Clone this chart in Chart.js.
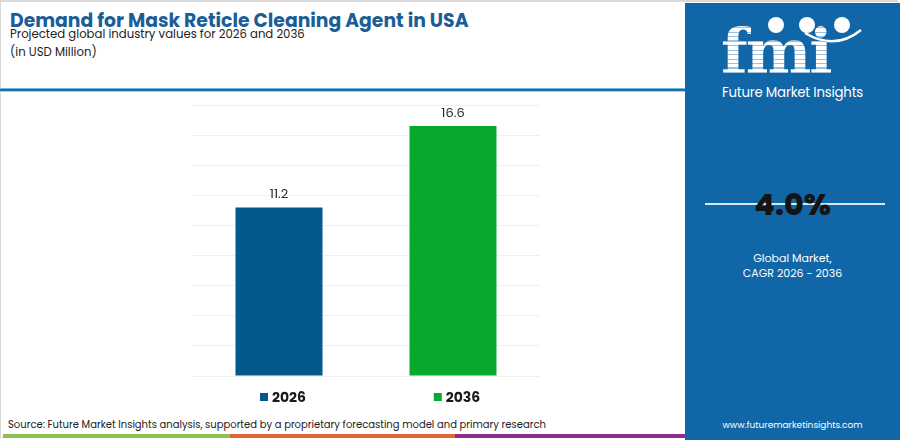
<!DOCTYPE html>
<html>
<head>
<meta charset="utf-8">
<script src="https://cdn.jsdelivr.net/npm/chart.js@4.4.1/dist/chart.umd.min.js"></script>
<style>
  html,body{margin:0;padding:0;}
  body{width:900px;height:440px;position:relative;overflow:hidden;background:#fff;font-family:"Poppins","Inter","Open Sans",sans-serif;}
  #frame{position:absolute;left:0;top:0;width:898px;height:438px;border:1px solid #d9d9d9;border-top:2px solid #d9d9d9;box-sizing:border-box;}
  #title{position:absolute;left:10px;top:6px;font-size:18.8px;font-weight:700;color:#1b5e97;white-space:nowrap;}
  #sub1{position:absolute;left:10px;top:26px;font-size:11.7px;color:#222;white-space:nowrap;}
  #sub2{position:absolute;left:10px;top:44px;font-size:11.7px;color:#222;white-space:nowrap;}
  #hline{position:absolute;left:0;top:88px;width:686px;height:4px;background:#1c6ca6;border-top:1px solid #6fb3e0;border-bottom:1px solid #9fd0f0;box-sizing:border-box;}
  #chartbox{position:absolute;left:0;top:95px;width:685px;height:320px;}
  #source{position:absolute;left:8px;top:417px;font-size:10px;color:#222;white-space:nowrap;}
  #bars{position:absolute;left:3px;top:434px;height:4px;width:682px;display:flex;}
  #bars div{height:100%;}
  #panel{position:absolute;left:685px;top:3px;width:215px;height:437px;background:#1166a8;overflow:hidden;}
  #logo{position:absolute;left:36px;top:21px;font-family:"DejaVu Serif",serif;font-weight:700;font-size:62px;line-height:56px;letter-spacing:-2px;
        background:repeating-linear-gradient(to bottom,#ffffff 0px,#ffffff 3px,#9cc3e3 3px,#9cc3e3 4.5px);-webkit-background-clip:text;background-clip:text;color:transparent;}
  .dot{position:absolute;width:16px;height:16px;border-radius:50%;background:#fff;}
  #fmitxt{position:absolute;left:0;width:215px;top:80px;text-align:center;font-size:13.3px;color:#fff;letter-spacing:-0.2px;}
  #cagrline{position:absolute;left:20px;top:200px;width:180px;height:2px;background:#d6e8f6;}
  #cagr{position:absolute;left:0;width:215px;top:179px;text-align:center;font-size:30px;font-weight:800;color:#141414;}
  #gm{position:absolute;left:0;width:215px;top:248px;text-align:center;font-size:11px;color:#fff;line-height:15px;}
  #url{position:absolute;left:0;width:215px;top:416px;text-align:center;font-size:9px;color:#fff;}
</style>
</head>
<body>
<div id="frame"></div>
<div id="title">Demand for Mask Reticle Cleaning Agent in USA</div>
<div id="sub1">Projected global industry values for 2026 and 2036</div>
<div id="sub2">(in USD Million)</div>
<div id="hline"></div>
<div id="chartbox"><canvas id="c"></canvas></div>
<div id="source">Source: Future Market Insights analysis, supported by a proprietary forecasting model and primary research</div>
<div id="bars"><div style="width:227px;background:#8cc152"></div><div style="width:225px;background:#e6643c"></div><div style="width:230px;background:#8b2c8c"></div></div>
<div id="panel">
  <svg style="position:absolute;left:0;top:0" width="215" height="120">
    <path d="M120 30 Q150 48 176 27" stroke="#fff" stroke-width="2.5" fill="none"/>
  </svg>
  <div class="dot" style="left:83px;top:14px"></div>
  <div class="dot" style="left:114px;top:14px"></div>
  <div class="dot" style="left:149px;top:14px"></div>
  <div id="logo">fmi</div>
  <div id="fmitxt">Future Market Insights</div>
  <div id="cagrline"></div>
  <div id="cagr">4.0%</div>
  <div id="gm">Global Market,<br>CAGR 2026 - 2036</div>
  <div id="url">www.futuremarketinsights.com</div>
</div>
<script>
const categories = ["2026", "2036"];
const values = [11.2, 16.6];
const barColors = ["#03588c", "#08aa2e"];
const yMax = 18;
const yStep = 2;

const labelPlugin = {
  id: "labels",
  afterDatasetsDraw(chart) {
    const ctx = chart.ctx;
    const meta = chart.getDatasetMeta(0);
    ctx.save();
    meta.data.forEach((bar, i) => {
      ctx.font = '13px "Poppins","Inter","Open Sans",sans-serif';
      ctx.fillStyle = "#2a2a2a";
      ctx.textAlign = "center";
      ctx.textBaseline = "bottom";
      ctx.fillText(values[i].toFixed(1), bar.x, bar.y - 6);
      ctx.font = 'bold 14px "Poppins","Inter","Open Sans",sans-serif';
      const tw = ctx.measureText(categories[i]).width;
      const total = 8 + 4 + tw;
      const start = bar.x - total / 2 + 4;
      const yc = chart.chartArea.bottom + 21;
      ctx.fillStyle = barColors[i];
      ctx.fillRect(start, yc - 4, 8, 8);
      ctx.fillStyle = "#1a1a1a";
      ctx.textAlign = "left";
      ctx.textBaseline = "middle";
      ctx.fillText(categories[i], start + 12, yc + 1);
    });
    ctx.restore();
  }
};

new Chart(document.getElementById("c"), {
  type: "bar",
  data: {
    labels: categories,
    datasets: [{
      data: values,
      backgroundColor: barColors,
      borderWidth: 0,
      barPercentage: 0.5,
      categoryPercentage: 1.0
    }]
  },
  options: {
    responsive: true,
    maintainAspectRatio: false,
    animation: false,
    layout: { padding: { left: 192, right: 145, top: 10, bottom: 39 } },
    plugins: { legend: { display: false }, tooltip: { enabled: false } },
    scales: {
      x: { display: false },
      y: {
        min: 0, max: yMax,
        ticks: { display: false, stepSize: yStep },
        border: { display: false },
        grid: { color: "#efefef", lineWidth: 1, drawTicks: false }
      }
    }
  },
  plugins: [labelPlugin]
});
</script>
</body>
</html>
